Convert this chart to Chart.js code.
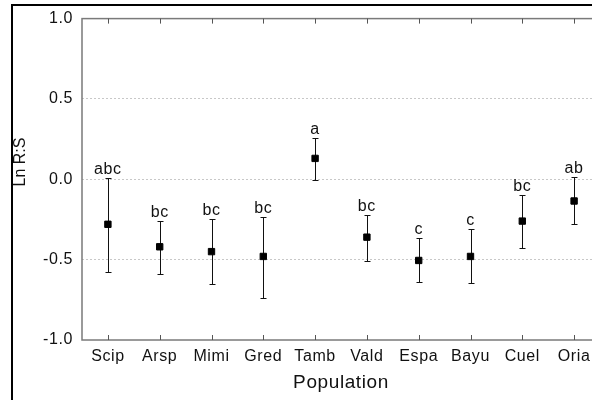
<!DOCTYPE html>
<html>
<head>
<meta charset="utf-8">
<script src="https://cdn.jsdelivr.net/npm/chart.js@4"></script>
<style>
  html, body { margin: 0; padding: 0; overflow: hidden; background: #fff; }
  canvas { display: block; }
</style>
</head>
<body>
<canvas id="lnChart" width="620" height="400"></canvas>
<script>
const populations = ['Scip', 'Arsp', 'Mimi', 'Gred', 'Tamb', 'Vald', 'Espa', 'Bayu', 'Cuel', 'Oria'];
const meanLnRS = [-0.28, -0.42, -0.45, -0.48, 0.13, -0.36, -0.505, -0.48, -0.26, -0.135];
const upperCI = [0.01, -0.26, -0.25, -0.235, 0.26, -0.22, -0.365, -0.31, -0.10, 0.015];
const lowerCI = [-0.575, -0.59, -0.65, -0.74, -0.005, -0.51, -0.64, -0.645, -0.425, -0.28];
const groupLetters = ['abc', 'bc', 'bc', 'bc', 'a', 'bc', 'c', 'c', 'bc', 'ab'];
const gridValues = [-0.5, 0, 0.5];

const FONT = '"Liberation Sans", Arial, sans-serif';

// whiskers under the squares, letters above them, frame + inner ticks on top
const errorBars = {
  id: 'errorBars',
  beforeDraw(chart) {
    chart.ctx.letterSpacing = '0.6px';
  },
  beforeDatasetsDraw(chart) {
    const { ctx, scales: { x, y } } = chart;
    ctx.save();
    ctx.strokeStyle = '#111';
    ctx.lineWidth = 1;
    populations.forEach((p, i) => {
      const px = Math.round(x.getPixelForValue(i)) + 0.5;
      const top = Math.round(y.getPixelForValue(upperCI[i])) + 0.5;
      const bot = Math.round(y.getPixelForValue(lowerCI[i])) + 0.5;
      ctx.beginPath();
      ctx.moveTo(px, top); ctx.lineTo(px, bot);
      ctx.moveTo(px - 3, top); ctx.lineTo(px + 3, top);
      ctx.moveTo(px - 3, bot); ctx.lineTo(px + 3, bot);
      ctx.stroke();
    });
    ctx.restore();
  },
  afterDatasetsDraw(chart) {
    const { ctx, scales: { x, y } } = chart;
    ctx.save();
    ctx.fillStyle = '#111';
    ctx.font = '16px ' + FONT;
    ctx.textAlign = 'center';
    ctx.textBaseline = 'alphabetic';
    groupLetters.forEach((txt, i) => {
      ctx.fillText(txt, x.getPixelForValue(i), y.getPixelForValue(upperCI[i]) - 4);
    });
    ctx.restore();
  },
  afterDraw(chart) {
    const { ctx, chartArea: a, scales: { x } } = chart;
    ctx.save();
    // plot frame
    ctx.strokeStyle = '#7a7a7a';
    ctx.lineWidth = 1.5;
    ctx.strokeRect(a.left, a.top, a.right - a.left, a.bottom - a.top);
    // inner ticks top and bottom
    ctx.lineWidth = 1;
    ctx.strokeStyle = '#555';
    ctx.beginPath();
    populations.forEach((p, i) => {
      const px = Math.round(x.getPixelForValue(i)) + 0.5;
      ctx.moveTo(px, a.top); ctx.lineTo(px, a.top + 5);
      ctx.moveTo(px, a.bottom); ctx.lineTo(px, a.bottom - 5);
    });
    ctx.stroke();
    // outer black border of the figure
    ctx.strokeStyle = '#000';
    ctx.lineWidth = 2;
    ctx.strokeRect(12, 5, 700, 500);
    // y title
    ctx.translate(21, 162);
    ctx.rotate(-Math.PI / 2);
    ctx.letterSpacing = '0px';
    ctx.fillStyle = '#111';
    ctx.font = '16px ' + FONT;
    ctx.textAlign = 'center';
    ctx.textBaseline = 'middle';
    ctx.fillText('Ln R:S', 0, 0);
    ctx.restore();
  }
};

new Chart(document.getElementById('lnChart').getContext('2d'), {
  type: 'line',
  data: {
    labels: populations,
    datasets: [{
      label: 'Ln R:S',
      data: meanLnRS,
      showLine: false,
      pointStyle: 'rect',
      pointRadius: 4.5,
      pointHoverRadius: 4.5,
      pointBackgroundColor: '#000',
      pointBorderColor: '#000',
      pointBorderWidth: 1
    }]
  },
  options: {
    responsive: false,
    animation: false,
    events: [],
    layout: { padding: { top: 14, right: 20, left: 0, bottom: 0 } },
    plugins: {
      legend: { display: false },
      tooltip: { enabled: false }
    },
    scales: {
      x: {
        type: 'category',
        offset: true,
        grid: { display: false, drawTicks: false },
        border: { display: false },
        ticks: {
          color: '#111',
          font: { family: FONT, size: 16 },
          padding: 7,
          maxRotation: 0,
          autoSkip: false
        },
        title: {
          display: true,
          text: 'Population',
          color: '#111',
          font: { family: FONT, size: 19 },
          padding: { top: 4, bottom: 6 }
        },
        afterFit: (scale) => { scale.height = 60; }
      },
      y: {
        min: -1,
        max: 1,
        grid: {
          drawTicks: false,
          color: (c) => gridValues.includes(c.tick.value) ? '#c8c8c8' : 'rgba(0,0,0,0)',
          lineWidth: 1
        },
        border: { display: false, dash: [2, 2] },
        ticks: {
          stepSize: 0.5,
          color: '#111',
          font: { family: FONT, size: 16 },
          padding: 9,
          callback: (v) => Number(v).toFixed(1)
        },
        afterFit: (scale) => { scale.width = 82; }
      }
    }
  },
  plugins: [errorBars]
});
</script>
</body>
</html>
